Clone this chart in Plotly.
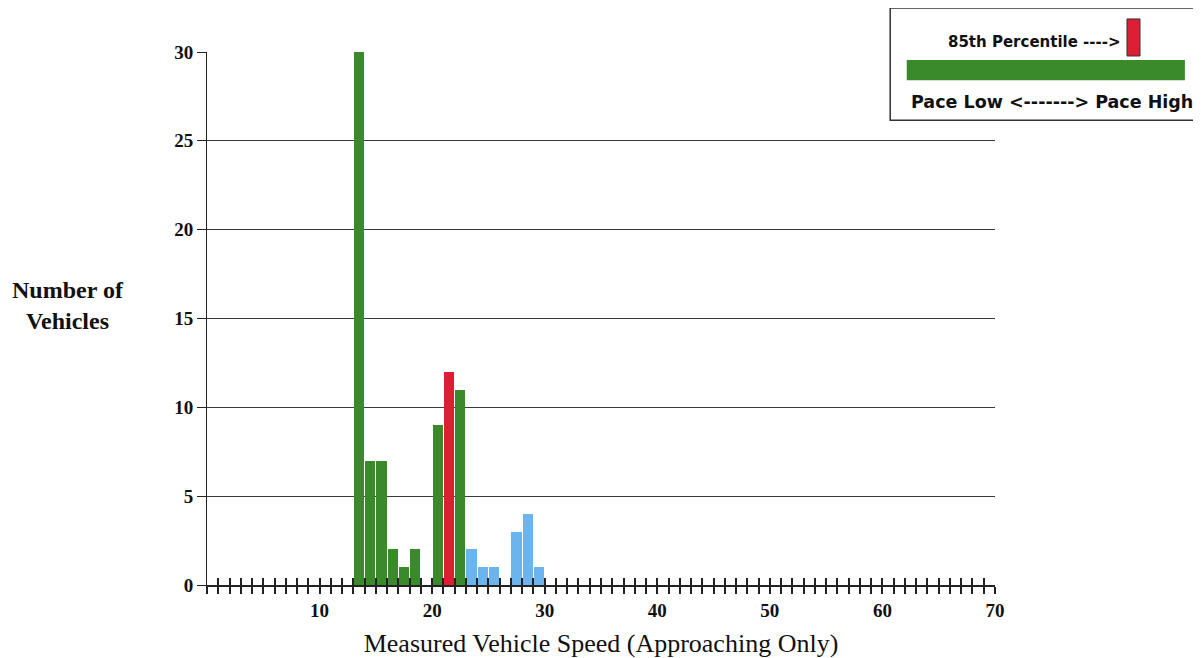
import plotly.graph_objects as go

# ---- data ----
speeds = [13, 14, 15, 16, 17, 18, 20, 21, 22, 23, 24, 25, 27, 28, 29]
counts = [30, 7, 7, 2, 1, 2, 9, 12, 11, 2, 1, 1, 3, 4, 1]
pace_low, pace_high = 13, 22
percentile_85 = 21
y_ticks = [0, 5, 10, 15, 20, 25, 30]
x_tick_vals = [10, 20, 30, 40, 50, 60, 70]
x_tick_text = ["10", "20", "30", "40", "50", "60", "70"]

GREEN = "#3a8a2c"
RED = "#dc1f35"
BLUE = "#6cb4ee"

colors = []
for s in speeds:
    if s == percentile_85:
        colors.append(RED)
    elif pace_low <= s <= pace_high:
        colors.append(GREEN)
    else:
        colors.append(BLUE)

fig = go.Figure()
fig.add_trace(go.Bar(
    x=speeds, y=counts, width=0.92, offset=0.04,
    marker=dict(color=colors, line=dict(width=0)),
    showlegend=False, hoverinfo="x+y",
))
# overlay axis carrying the inside half of the crossing tick marks
fig.add_trace(go.Scatter(x=[0, 70], y=[0, 0], xaxis="x2", mode="lines",
                         line=dict(width=0), showlegend=False, hoverinfo="skip"))

serif = "Liberation Serif"
sans = "DejaVu Sans"

fig.update_layout(
    width=1201, height=658,
    margin=dict(l=199, r=214, t=44, b=81),
    plot_bgcolor="white", paper_bgcolor="white",
    bargap=0,
    xaxis=dict(
        range=[0, 70], tickvals=x_tick_vals,
        ticktext=["<b>%s</b>" % t for t in x_tick_text],
        ticks="outside", ticklen=7, tickwidth=1.5, tickcolor="#222",
        minor=dict(dtick=1, tick0=0, ticks="outside", ticklen=7, tickwidth=1.5, tickcolor="#222"),
        showline=True, linecolor="#222", linewidth=1.5, showgrid=False, zeroline=False,
        tickfont=dict(family=serif, size=19, color="#111"),
        title=dict(text="Measured Vehicle Speed (Approaching Only)",
                   font=dict(family=serif, size=26, color="#111"), standoff=14),
    ),
    xaxis2=dict(
        range=[0, 70], overlaying="x", side="bottom", anchor="y",
        dtick=1, tick0=0, ticks="inside", ticklen=7, tickwidth=1.5, tickcolor="#222",
        showticklabels=False, showgrid=False, zeroline=False, showline=False,
    ),
    yaxis=dict(
        range=[0, 30], tickvals=y_ticks,
        ticktext=["<b>%d</b>" % v for v in y_ticks],
        ticks="outside", ticklen=9, tickwidth=1, tickcolor="#222",
        showline=True, linecolor="#222", linewidth=1,
        showgrid=True, gridcolor="#3a3a3a", gridwidth=1, zeroline=False,
        tickfont=dict(family=serif, size=19, color="#111"),
    ),
    font=dict(family=serif, color="#111"),
)

# y-axis title (two lines, left of the axis)
fig.add_annotation(text="<b>Number of<br>Vehicles</b>", xref="paper", yref="paper",
                   x=-0.176, y=0.525, xanchor="center", yanchor="middle",
                   showarrow=False, align="center",
                   font=dict(family=serif, size=24, color="#111"))

# custom legend box (upper right)
fig.add_shape(type="rect", xref="paper", yref="paper",
              x0=0.867, x1=1.2576, y0=0.872, y1=1.0826,
              line=dict(color="#333", width=1.5), fillcolor="white", layer="above")
fig.add_shape(type="rect", xref="paper", yref="paper",
              x0=1.1675, x1=1.184, y0=0.9925, y1=1.062,
              line=dict(color="#333", width=1), fillcolor=RED, layer="above")
fig.add_shape(type="rect", xref="paper", yref="paper",
              x0=0.888, x1=1.241, y0=0.947, y1=0.985,
              line=dict(width=0), fillcolor=GREEN, layer="above")
fig.add_annotation(text="<b>85th Percentile ----></b>", xref="paper", yref="paper",
                   x=1.163, y=1.019, xanchor="right", yanchor="middle", showarrow=False,
                   font=dict(family=sans, size=15, color="#111"))
fig.add_annotation(text="<b>Pace Low <-------> Pace High</b>", xref="paper", yref="paper",
                   x=1.0723, y=0.906, xanchor="center", yanchor="middle", showarrow=False,
                   font=dict(family=sans, size=17.5, color="#111"))

fig.write_html("out.html")
